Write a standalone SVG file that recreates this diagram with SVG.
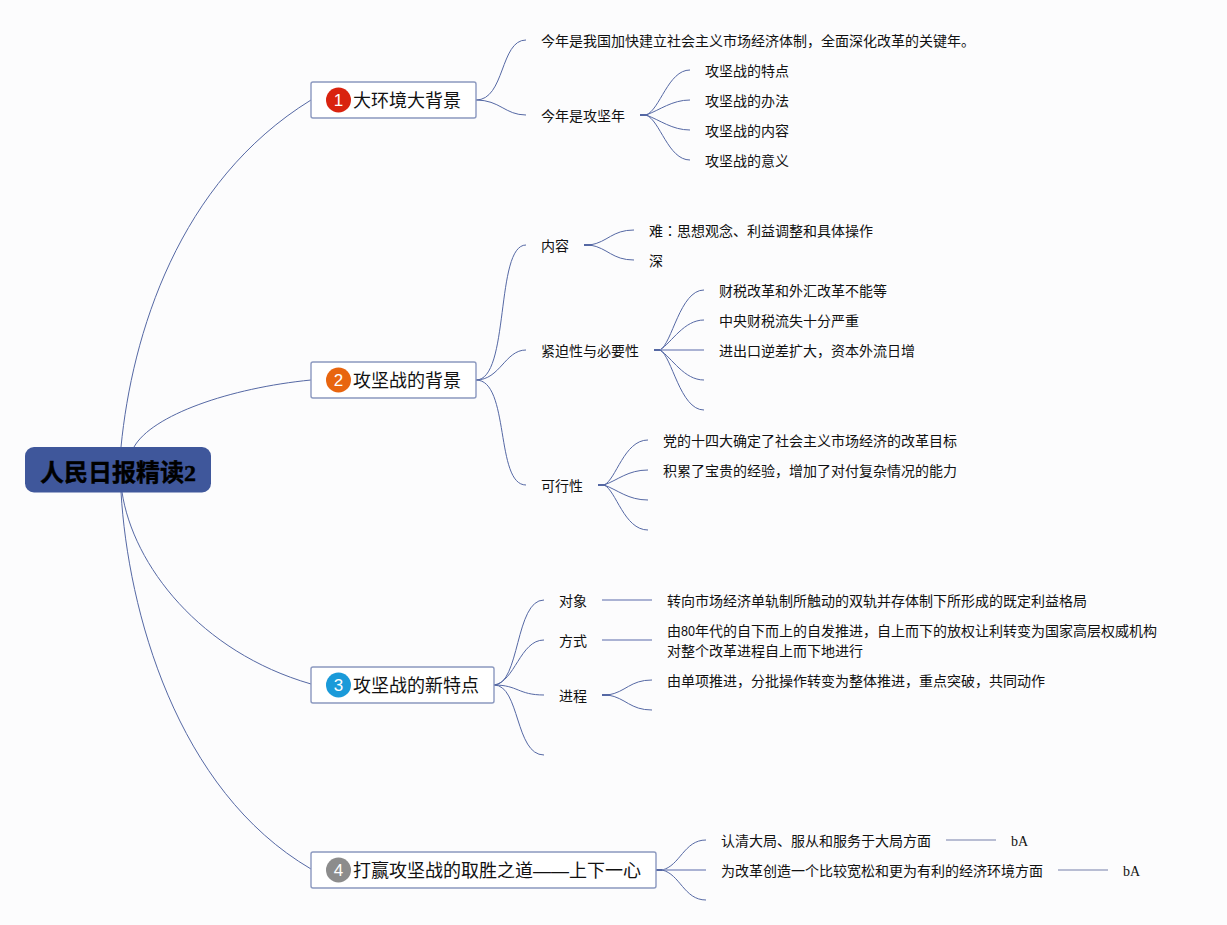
<svg xmlns="http://www.w3.org/2000/svg" width="1227" height="925" viewBox="0 0 1227 925">
<style>
text{font-family:"Noto Sans CJK SC","Liberation Sans",sans-serif;fill:#111}
.leaf{font-size:14px}
.main{font-size:18px}
.root{font-size:24px;font-weight:700;fill:#000}
.box{fill:#fff;stroke:#8b98bf;stroke-width:1.4}
.c{fill:none;stroke:#5568a4;stroke-width:1}
.t{fill:none;stroke:#5568a4;stroke-width:2}
.s{fill:none;stroke:#8f9ac4;stroke-width:1.4}
.g{fill:none;stroke:#a2a8c4;stroke-width:1.4}
.num{font-family:"Liberation Sans",sans-serif;font-size:17px;fill:#fff;text-anchor:middle}
.sf{font-family:"Liberation Serif",serif}
.ls{font-family:"Liberation Sans",sans-serif}
.tc{font-family:"Noto Sans CJK TC",sans-serif}
</style>
<rect width="1227" height="925" fill="#fcfcfd"/>
<g id="connectors">
<path class="c" d="M121 447C132 335 178 182 311 100"/>
<path class="c" d="M134 447C152 415 230 388 311 380"/>
<path class="c" d="M122 492C133 565 200 652 311 684"/>
<path class="c" d="M121 492C128 610 176 790 311 869"/>
<path class="c" d="M476 100C505 100 500 40 526 40"/>
<path class="c" d="M476 100C500 100 505 115 526 115"/>
<path class="t" d="M640 115H648"/>
<path class="c" d="M646 115C660 110 668 70 690 70"/>
<path class="c" d="M646 115C660 110 672 100 690 100"/>
<path class="c" d="M646 115C660 120 672 130 690 130"/>
<path class="c" d="M646 115C660 120 668 160 690 160"/>
<path class="c" d="M476 380C510 380 495 245 526 245"/>
<path class="c" d="M476 380C500 380 505 350 526 350"/>
<path class="c" d="M476 380C510 380 495 485 526 485"/>
<path class="t" d="M584 245H592"/>
<path class="c" d="M590 245C608 242 612 230 634 230"/>
<path class="c" d="M590 245C608 248 612 260 634 260"/>
<path class="t" d="M654 350H662"/>
<path class="c" d="M660 350C672 344 680 290 704 290"/>
<path class="c" d="M660 350C672 342 684 320 704 320"/>
<path class="s" d="M660 350H704"/>
<path class="c" d="M660 350C672 358 684 380 704 380"/>
<path class="c" d="M660 350C672 356 680 410 704 410"/>
<path class="t" d="M598 485H606"/>
<path class="c" d="M604 485C616 480 624 440 648 440"/>
<path class="c" d="M604 485C618 480 628 470 648 470"/>
<path class="c" d="M604 485C618 490 628 500 648 500"/>
<path class="c" d="M604 485C616 490 624 530 648 530"/>
<path class="c" d="M494 685C520 685 515 600 544 600"/>
<path class="c" d="M494 685C515 682 520 640 544 640"/>
<path class="c" d="M494 685C518 685 518 695 544 695"/>
<path class="c" d="M494 685C520 685 515 755 544 755"/>
<path class="s" d="M602 600H652"/>
<path class="s" d="M602 640H652"/>
<path class="t" d="M602 695H610"/>
<path class="c" d="M608 695C626 692 630 680 652 680"/>
<path class="c" d="M608 695C626 698 630 710 652 710"/>
<path class="t" d="M656 870H664"/>
<path class="c" d="M662 870C680 866 684 840 706 840"/>
<path class="s" d="M662 870H706"/>
<path class="c" d="M662 870C680 874 684 900 706 900"/>
<path class="g" d="M946 840H996"/>
<path class="g" d="M1058 870H1108"/>
</g>
<g id="root">
<rect x="25" y="447" width="186" height="45.500" rx="9" fill="#3f579b"/>
<text class="root" x="40" y="481" stroke="#000" stroke-width="0.4">人民日报精读<tspan class="sf">2</tspan></text>
</g>
<g id="n1">
<rect class="box" x="311" y="82" width="165" height="36" rx="2"/>
<circle cx="338.500" cy="100" r="12.500" fill="#d9230f"/>
<text class="num" x="338.500" y="106">1</text>
<text class="main" x="353" y="107">大环境大背景</text>
</g>
<g id="n1-1"><text class="leaf" x="541" y="46">今年是我国加快建立社会主义市场经济体制，全面深化改革的关键年。</text></g>
<g id="n1-2"><text class="leaf" x="541" y="121">今年是攻坚年</text></g>
<g id="n1-2-1"><text class="leaf" x="705" y="76">攻坚战的特点</text></g>
<g id="n1-2-2"><text class="leaf" x="705" y="106">攻坚战的办法</text></g>
<g id="n1-2-3"><text class="leaf" x="705" y="136">攻坚战的内容</text></g>
<g id="n1-2-4"><text class="leaf" x="705" y="166">攻坚战的意义</text></g>
<g id="n2">
<rect class="box" x="311" y="362" width="165" height="36" rx="2"/>
<circle cx="338.500" cy="380" r="12.500" fill="#e8650f"/>
<text class="num" x="338.500" y="386">2</text>
<text class="main" x="353" y="387">攻坚战的背景</text>
</g>
<g id="n2-1"><text class="leaf" x="541" y="251">内容</text></g>
<g id="n2-1-1"><text class="leaf" x="649" y="236">难<tspan class="tc">：</tspan>思想观念、利益调整和具体操作</text></g>
<g id="n2-1-2"><text class="leaf" x="649" y="266">深</text></g>
<g id="n2-2"><text class="leaf" x="541" y="356">紧迫性与必要性</text></g>
<g id="n2-2-1"><text class="leaf" x="719" y="296">财税改革和外汇改革不能等</text></g>
<g id="n2-2-2"><text class="leaf" x="719" y="326">中央财税流失十分严重</text></g>
<g id="n2-2-3"><text class="leaf" x="719" y="356">进出口逆差扩大，资本外流日增</text></g>
<g id="n2-3"><text class="leaf" x="541" y="491">可行性</text></g>
<g id="n2-3-1"><text class="leaf" x="663" y="446">党的十四大确定了社会主义市场经济的改革目标</text></g>
<g id="n2-3-2"><text class="leaf" x="663" y="476">积累了宝贵的经验，增加了对付复杂情况的能力</text></g>
<g id="n3">
<rect class="box" x="311" y="667" width="183" height="36" rx="2"/>
<circle cx="338.500" cy="685" r="12.500" fill="#1a9ad9"/>
<text class="num" x="338.500" y="691">3</text>
<text class="main" x="353" y="692">攻坚战的新特点</text>
</g>
<g id="n3-1"><text class="leaf" x="559" y="606">对象</text></g>
<g id="n3-1-1"><text class="leaf" x="667" y="606">转向市场经济单轨制所触动的双轨并存体制下所形成的既定利益格局</text></g>
<g id="n3-2"><text class="leaf" x="559" y="646">方式</text></g>
<g id="n3-2-1"><text class="leaf" x="667" y="636">由<tspan class="ls" textLength="14" lengthAdjust="spacingAndGlyphs">80</tspan><tspan x="695">年代的自下而上的自发推进，自上而下的放权让利转变为国家高层权威机构</tspan></text><text class="leaf" x="667" y="656">对整个改革进程自上而下地进行</text></g>
<g id="n3-3"><text class="leaf" x="559" y="701">进程</text></g>
<g id="n3-3-1"><text class="leaf" x="667" y="686">由单项推进，分批操作转变为整体推进，重点突破，共同动作</text></g>
<g id="n4">
<rect class="box" x="311" y="852" width="345" height="36" rx="2"/>
<circle cx="338.500" cy="870" r="12.500" fill="#8c8c8c"/>
<text class="num" x="338.500" y="876">4</text>
<text class="main" x="353" y="877">打赢攻坚战的取胜之道<tspan class="ls" textLength="36" lengthAdjust="spacingAndGlyphs">——</tspan><tspan x="569">上下一心</tspan></text>
</g>
<g id="n4-1"><text class="leaf" x="721" y="846">认清大局、服从和服务于大局方面</text></g>
<g id="n4-1-1"><text class="leaf sf" x="1011" y="846">bA</text></g>
<g id="n4-2"><text class="leaf" x="721" y="876">为改革创造一个比较宽松和更为有利的经济环境方面</text></g>
<g id="n4-2-1"><text class="leaf sf" x="1123" y="876">bA</text></g>
</svg>
